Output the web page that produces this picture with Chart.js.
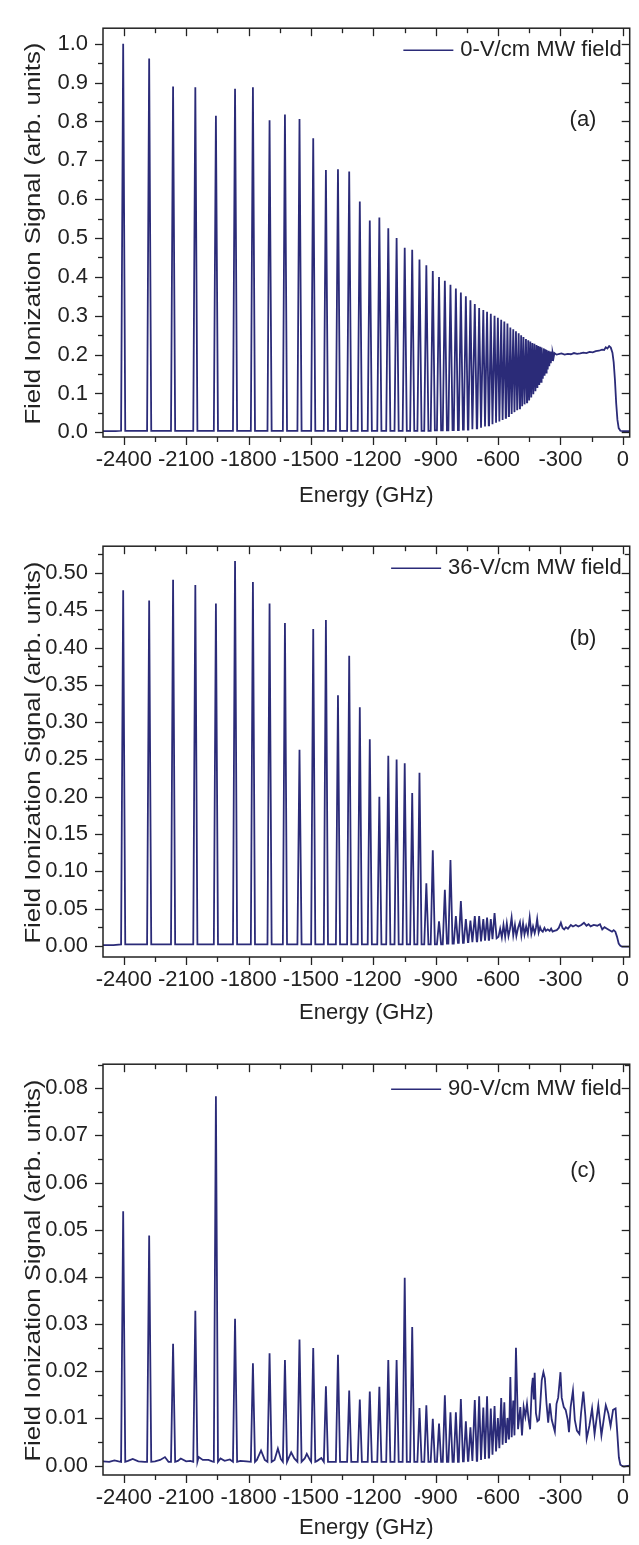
<!DOCTYPE html>
<html>
<head>
<meta charset="utf-8">
<title>Field ionization spectra</title>
<script src="https://cdn.jsdelivr.net/npm/chart.js@4.4.1/dist/chart.umd.min.js"></script>
<style>
  html, body { margin: 0; padding: 0; background: #fff; }
  canvas { display: block; }
</style>
</head>
<body>
<canvas id="chartA" width="639" height="518"></canvas>
<canvas id="chartB" width="639" height="518"></canvas>
<canvas id="chartC" width="639" height="509"></canvas>
<script>
// ---- data ----
// peak positions (GHz), Rydberg levels seen in the spectra, first = -2403
const levelE = [-2403, -2278, -2163, -2056, -1957, -1865, -1779, -1699, -1625, -1555,
  -1489, -1428, -1370, -1316, -1265, -1217, -1171, -1128, -1088, -1049,
  -1013, -978, -945, -914, -884, -856, -829, -803, -779, -755,
  -733, -712, -691, -671, -653, -635, -617, -601, -585, -570,
  -555, -541, -527, -514, -501, -489, -478, -466, -455, -445,
  -435, -425, -415, -406, -397, -389, -380, -372, -365, -357,
  -350, -343, -336, -329];

const energyTicks = [-2400, -2100, -1800, -1500, -1200, -900, -600, -300, 0];

// (a) 0 V/cm
const peakA = [1.000, 0.962, 0.890, 0.888, 0.815, 0.884, 0.888, 0.803, 0.818, 0.806,
  0.757, 0.675, 0.677, 0.671, 0.594, 0.545, 0.553, 0.525, 0.500, 0.475,
  0.470, 0.445, 0.430, 0.415, 0.400, 0.390, 0.380, 0.370, 0.360, 0.350,
  0.340, 0.330, 0.320, 0.315, 0.310, 0.305, 0.300, 0.295, 0.290, 0.285,
  0.280, 0.270, 0.265, 0.260, 0.255, 0.250, 0.245, 0.240, 0.237, 0.234,
  0.230, 0.228, 0.225, 0.222, 0.220, 0.218, 0.216, 0.214, 0.212, 0.210,
  0.208, 0.206, 0.205, 0.204];
const floorA = [0.004, 0.004, 0.004, 0.004, 0.004, 0.004, 0.004, 0.004, 0.004, 0.004,
  0.004, 0.004, 0.004, 0.004, 0.004, 0.004, 0.004, 0.004, 0.004, 0.004,
  0.004, 0.004, 0.004, 0.005, 0.005, 0.005, 0.006, 0.006, 0.007, 0.007,
  0.008, 0.010, 0.012, 0.015, 0.018, 0.021, 0.025, 0.028, 0.032, 0.037,
  0.042, 0.047, 0.052, 0.057, 0.062, 0.067, 0.072, 0.077, 0.082, 0.090,
  0.098, 0.106, 0.114, 0.122, 0.130, 0.138, 0.146, 0.154, 0.162, 0.170,
  0.178, 0.186, 0.193, 0.200];
const restAx = [-2500, -2440, -310, -295, -280, -265, -250, -235, -220, -205, -190, -175, -160, -145,
  -130, -115, -100, -90, -82, -74, -66, -58, -50, -44, -38, -32, -26, -20, -12, 0, 33];
const restAy = [0.003, 0.003, 0.201, 0.203, 0.200, 0.202, 0.201, 0.204, 0.202, 0.203, 0.205, 0.204, 0.207, 0.206,
  0.209, 0.210, 0.213, 0.212, 0.219, 0.216, 0.222, 0.218, 0.205, 0.180, 0.135, 0.075, 0.032, 0.011, 0.004, 0.003, 0.003];
const ticksA = [0.0, 0.1, 0.2, 0.3, 0.4, 0.5, 0.6, 0.7, 0.8, 0.9, 1.0];

// (b) 36 V/cm
const peakB = [0.477, 0.463, 0.491, 0.484, 0.459, 0.516, 0.488, 0.459, 0.433, 0.263,
  0.425, 0.437, 0.336, 0.389, 0.320, 0.277, 0.200, 0.255, 0.250, 0.245,
  0.205, 0.232, 0.084, 0.128, 0.033, 0.075, 0.115, 0.040, 0.060, 0.036,
  0.034, 0.040, 0.040, 0.036, 0.038, 0.036, 0.044];
const floorB = [0.002, 0.002, 0.002, 0.002, 0.002, 0.002, 0.002, 0.002, 0.002, 0.002,
  0.002, 0.002, 0.002, 0.002, 0.002, 0.002, 0.002, 0.002, 0.002, 0.002,
  0.002, 0.002, 0.002, 0.002, 0.002, 0.003, 0.003, 0.004, 0.004, 0.005,
  0.005, 0.006, 0.006, 0.007, 0.008, 0.009, 0.010];
const restBx = [-2500, -2450, -598, -590, -582, -574, -566, -558, -550, -543, -535, -527, -519, -512,
  -503, -495, -488, -480, -473, -465, -457, -448, -440, -432, -424, -418, -412, -405, -398,
  -393, -385, -377, -370, -361, -352, -345, -338, -330, -318, -308, -298, -290, -282, -274,
  -264, -250, -240, -226, -214, -200, -187, -175, -165, -155, -140, -123, -110, -99, -88,
  -76, -64, -52, -44, -36, -28, -20, -12, -4, 10, 33];
const restBy = [0.001, 0.001, 0.012, 0.023, 0.011, 0.028, 0.012, 0.030, 0.013, 0.022, 0.038, 0.014, 0.028, 0.013,
  0.025, 0.032, 0.014, 0.030, 0.015, 0.026, 0.016, 0.038, 0.016, 0.026, 0.017, 0.024, 0.036, 0.018, 0.025,
  0.021, 0.019, 0.024, 0.020, 0.022, 0.020, 0.023, 0.019, 0.020, 0.021, 0.024, 0.031, 0.024, 0.022, 0.025,
  0.023, 0.028, 0.026, 0.028, 0.026, 0.028, 0.031, 0.027, 0.029, 0.026, 0.028, 0.027, 0.029, 0.022, 0.025,
  0.023, 0.021, 0.019, 0.021, 0.019, 0.012, 0.003, 0.000, -0.001, -0.001, -0.001];
const ticksB = [0.00, 0.05, 0.10, 0.15, 0.20, 0.25, 0.30, 0.35, 0.40, 0.45, 0.50];

// (c) 90 V/cm
const peakC = [0.0539, 0.0488, 0.0258, 0.0328, 0.0783, 0.0311, 0.0217, 0.0238, 0.0224, 0.0267,
  0.0249, 0.0168, 0.0235, 0.0159, 0.0140, 0.0157, 0.0167, 0.0224, 0.0224, 0.0398,
  0.0294, 0.0122, 0.0128, 0.0099, 0.0089, 0.0149, 0.0113, 0.0113, 0.0141, 0.0094,
  0.0081, 0.0139, 0.0147, 0.0123, 0.0147, 0.0121, 0.0126, 0.0101, 0.0143, 0.0134,
  0.0101, 0.0188, 0.0138, 0.0250];
const floorC = [0.0008, 0.0008, 0.0008, 0.0008, 0.0008, 0.0008, 0.0008, 0.0008, 0.0008, 0.0008,
  0.0008, 0.0008, 0.0008, 0.0008, 0.0008, 0.0008, 0.0008, 0.0008, 0.0008, 0.0008,
  0.0008, 0.0008, 0.0008, 0.0008, 0.0008, 0.0008, 0.0008, 0.0008, 0.0009, 0.0010,
  0.0010, 0.0010, 0.0012, 0.0014, 0.0017, 0.0023, 0.0030, 0.0037, 0.0044, 0.0050,
  0.0057, 0.0060, 0.0064, 0.0077];
const restCx = [-2500, -2470, -2445, -2425, -2380, -2357, -2330, -2300, -2250, -2225, -2202, -2185,
  -2140, -2126, -2100, -2080, -2040, -2020, -1993, -1975, -1935, -1915, -1890, -1840, -1810,
  -1760, -1740, -1722, -1675, -1659, -1645, -1605, -1595, -1580, -1530, -1520, -1505, -1470, -1450,
  -493, -485, -477, -469, -461, -453, -446, -438, -433, -428, -424, -418, -411, -403, -398, -390,
  -382, -375, -367, -359, -351, -342, -327, -319, -311, -300, -294, -284, -275, -265, -259, -251,
  -240, -231, -221, -209, -201, -190, -180, -174, -161, -148, -136, -118, -103, -82, -70, -59,
  -47, -35, -27, -19, -12, -6, 5, 33];
const restCy = [0.0009, 0.0008, 0.0011, 0.0009, 0.0010, 0.0014, 0.0009, 0.0008, 0.0009, 0.0012, 0.0018, 0.0008,
  0.0010, 0.0015, 0.0009, 0.0010, 0.0018, 0.0012, 0.0012, 0.0009, 0.0015, 0.0010, 0.0013, 0.0010, 0.0009,
  0.0012, 0.0032, 0.0012, 0.0012, 0.0036, 0.0014, 0.0018, 0.0028, 0.0015, 0.0015, 0.0025, 0.0012, 0.0010, 0.0016,
  0.0124, 0.0064, 0.0124, 0.0104, 0.0131, 0.0097, 0.0077, 0.0165, 0.0186, 0.0140, 0.0197, 0.0111, 0.0094, 0.0097, 0.0124, 0.0181,
  0.0198, 0.0185, 0.0131, 0.0091, 0.0132, 0.0097, 0.0072, 0.0131, 0.0144, 0.0198, 0.0144, 0.0124, 0.0118, 0.0097, 0.0071, 0.0124,
  0.0159, 0.0097, 0.0074, 0.0067, 0.0111, 0.0157, 0.0104, 0.0057, 0.0084, 0.0121, 0.0067, 0.0128, 0.0064, 0.0128, 0.0111, 0.0084,
  0.0118, 0.0121, 0.0071, 0.0017, 0.0002, 0.0000, -0.0002, 0.0000];
const ticksC = [0.00, 0.01, 0.02, 0.03, 0.04, 0.05, 0.06, 0.07, 0.08];

// ---- drawing ----
const INK = '#222222';
const LINE = '#2b2b78';
const FONT = "'Liberation Sans', Arial, sans-serif";
const PEAK_HALF_WIDTH = 10;
const Y_TITLE = 'Field Ionization Signal (arb. units)';

Chart.defaults.font.family = FONT;
Chart.defaults.color = INK;

function buildTrace(peaks, floors, restX, restY) {
  const pts = [];
  for (let i = 0; i < peaks.length; i++) {
    const e = levelE[i];
    const gapL = i > 0 ? e - levelE[i - 1] : 1e9;
    const gapR = i < peaks.length - 1 ? levelE[i + 1] - e : 1e9;
    const wl = Math.min(PEAK_HALF_WIDTH, gapL * 0.45);
    const wr = Math.min(PEAK_HALF_WIDTH, gapR * 0.45);
    pts.push({x: e - wl, y: i > 0 ? floors[i - 1] : floors[i]});
    pts.push({x: e, y: peaks[i]});
    pts.push({x: e + wr, y: floors[i]});
  }
  restX.forEach((x, i) => pts.push({x: x, y: restY[i]}));
  return pts.sort((p, q) => p.x - q.x);
}

// frame, ticks on all four sides, y title, legend and panel letter
const framePlugin = {
  id: 'frame',
  afterDraw(chart, args, o) {
    const ctx = chart.ctx, a = chart.chartArea;
    const sx = chart.scales.x, sy = chart.scales.y;
    const seg = (x1, y1, x2, y2) => { ctx.beginPath(); ctx.moveTo(x1, y1); ctx.lineTo(x2, y2); ctx.stroke(); };
    ctx.save();
    ctx.strokeStyle = INK;
    ctx.lineWidth = 1.5;
    ctx.strokeRect(a.left, a.top, a.right - a.left, a.bottom - a.top);
    ctx.lineWidth = 1.3;
    energyTicks.forEach((v, i) => {
      const px = Math.round(sx.getPixelForValue(v)) + 0.5;
      seg(px, a.bottom, px, a.bottom + 8);
      seg(px, a.top, px, a.top + 8);
      const m = v + 150;
      if (i < energyTicks.length - 1) {
        const mx = Math.round(sx.getPixelForValue(m)) + 0.5;
        seg(mx, a.bottom, mx, a.bottom + 5);
        seg(mx, a.top, mx, a.top + 5);
      }
    });
    const yt = o.yTicks, step = yt[1] - yt[0];
    const yAll = [];
    yt.forEach(v => { yAll.push([v, 8]); yAll.push([v + step / 2, 5]); });
    yAll.forEach(([v, len]) => {
      if (v > sy.max) return;
      const py = Math.round(sy.getPixelForValue(v)) + 0.5;
      seg(a.left - len, py, a.left, py);
      seg(a.right - len, py, a.right, py);
    });
    ctx.font = '22px ' + FONT;
    ctx.fillStyle = INK;
    ctx.textBaseline = 'middle';
    // y title, a little drawn out along its length like the original
    ctx.save();
    ctx.translate(34, (a.top + a.bottom) / 2 + 1);
    ctx.rotate(-Math.PI / 2);
    ctx.scale(1.17, 1);
    ctx.textAlign = 'center';
    ctx.fillText(Y_TITLE, 0, 0);
    ctx.restore();
    // legend
    ctx.textAlign = 'right';
    const ly = a.top + o.legendDy;
    const tx = a.right - 8;
    const w = ctx.measureText(o.label).width;
    ctx.fillText(o.label, tx, ly);
    ctx.strokeStyle = LINE;
    ctx.lineWidth = 1.6;
    seg(tx - w - 57, ly, tx - w - 7, ly);
    // panel letter
    ctx.textAlign = 'center';
    ctx.fillText(o.tag, 583, a.top + o.tagDy);
    ctx.restore();
  }
};

const panels = [
  {id: 'chartA', peaks: peakA, floors: floorA, rx: restAx, ry: restAy, yMin: -0.012, yMax: 1.04,
   yTicks: ticksA, dec: 1, label: '0-V/cm MW field', tag: '(a)', top: 5, xh: 81, titlePad: 9,
   legendDy: 22, tagDy: 92},
  {id: 'chartB', peaks: peakB, floors: floorB, rx: restBx, ry: restBy, yMin: -0.015, yMax: 0.536,
   yTicks: ticksB, dec: 2, label: '36-V/cm MW field', tag: '(b)', top: 7, xh: 79, titlePad: 10,
   legendDy: 22, tagDy: 93},
  {id: 'chartC', peaks: peakC, floors: floorC, rx: restCx, ry: restCy, yMin: -0.002, yMax: 0.0851,
   yTicks: ticksC, dec: 2, label: '90-V/cm MW field', tag: '(c)', top: 7, xh: 70, titlePad: 4,
   legendDy: 25, tagDy: 107}
];

panels.forEach(p => {
  new Chart(document.getElementById(p.id), {
    type: 'line',
    data: {
      datasets: [{
        label: p.label,
        data: buildTrace(p.peaks, p.floors, p.rx, p.ry),
        borderColor: LINE,
        borderWidth: 1.8,
        pointRadius: 0,
        fill: false,
        tension: 0
      }]
    },
    options: {
      responsive: false,
      devicePixelRatio: 1,
      animation: false,
      layout: {padding: {top: p.top, right: 3, left: 0, bottom: 0}},
      plugins: {
        legend: {display: false},
        tooltip: {enabled: false},
        frame: {label: p.label, tag: p.tag, yTicks: p.yTicks, legendDy: p.legendDy, tagDy: p.tagDy}
      },
      scales: {
        x: {
          type: 'linear',
          min: -2500,
          max: 33,
          afterBuildTicks: s => { s.ticks = energyTicks.map(v => ({value: v})); },
          afterFit: s => { s.height = p.xh; },
          grid: {display: false, drawTicks: false},
          border: {display: false},
          ticks: {font: {size: 22}, color: INK, padding: 10, maxRotation: 0, autoSkip: false,
                  callback: v => String(v)},
          title: {display: true, text: 'Energy (GHz)', font: {size: 22}, color: INK,
                  padding: {top: 0, bottom: p.titlePad}}
        },
        y: {
          min: p.yMin,
          max: p.yMax,
          afterBuildTicks: s => { s.ticks = p.yTicks.map(v => ({value: v})); },
          afterFit: s => { s.width = 103; },
          grid: {display: false, drawTicks: false},
          border: {display: false},
          ticks: {font: {size: 22}, color: INK, padding: 15, callback: v => v.toFixed(p.dec)},
          title: {display: false, text: Y_TITLE}
        }
      }
    },
    plugins: [framePlugin]
  });
});
</script>
</body>
</html>
